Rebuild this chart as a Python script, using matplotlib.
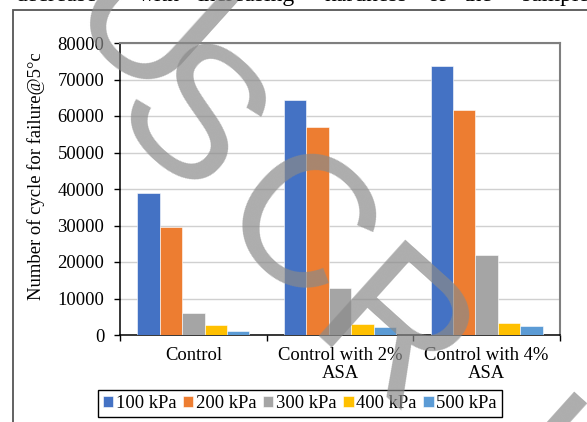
import numpy as np
import matplotlib.pyplot as plt
from matplotlib.patches import Rectangle

plt.rcParams['font.family'] = ['Liberation Serif', 'DejaVu Serif']

# data
categories = ['Control', 'Control with 2%\nASA', 'Control with 4%\nASA']
pressures = ['100 kPa', '200 kPa', '300 kPa', '400 kPa', '500 kPa']
cycles = {
    '100 kPa': [38800, 64500, 73700],
    '200 kPa': [29500, 56900, 61700],
    '300 kPa': [6100, 12800, 21900],
    '400 kPa': [2800, 3100, 3300],
    '500 kPa': [1100, 2200, 2400],
}
colors = ['#4472C4', '#ED7D31', '#A5A5A5', '#FFC000', '#5B9BD5']

fig = plt.figure(figsize=(5.87, 4.22), dpi=100)
ax = fig.add_axes([120 / 587, 1 - 335 / 422, 440 / 587, 292 / 422])

x = np.arange(len(categories))
w = 0.153
for i, p in enumerate(pressures):
    ax.bar(x + (i - 2) * w, cycles[p], w, color=colors[i], label=p,
           edgecolor='white', linewidth=0.4, zorder=3)

ax.set_xlim(-0.5, 2.5)
ax.set_ylim(0, 80000)
ax.set_yticks(np.arange(0, 80001, 10000))
ax.grid(axis='y', color='#d0d0d0', linewidth=1.0, zorder=0)
ax.tick_params(axis='y', labelsize=13.4, length=4.3, width=1, direction='out', pad=7)

ax.set_xticks(x, categories, linespacing=1.05)
ax.set_xticks([-0.5, 0.5, 1.5, 2.5], minor=True)
ax.tick_params(axis='x', which='major', length=0, labelsize=13.4, pad=9)
ax.tick_params(axis='x', which='minor', length=4, width=1, direction='out')

for s in ['left', 'bottom']:
    ax.spines[s].set_color('black')
    ax.spines[s].set_linewidth(1.1)
for s in ['top', 'right']:
    ax.spines[s].set_color('#7f7f7f')
    ax.spines[s].set_linewidth(1.5)

ax.set_ylabel('Number of cycle for failure@5°c', fontsize=13.4)
ax.yaxis.set_label_coords(-0.17, 0.545)

fig.legend(loc='center', bbox_to_anchor=(0.511, 0.044), ncol=5, fontsize=13.4,
           frameon=True, fancybox=False, edgecolor='black', framealpha=1,
           handlelength=0.55, handleheight=0.55, handletextpad=0.15,
           columnspacing=0.35, borderpad=0.25)

# outer frame of the chart object
fig.add_artist(Rectangle((13 / 587, -0.1), 1.1, 1.1 - 10 / 422,
                         transform=fig.transFigure, fill=False,
                         edgecolor='#555555', linewidth=1.3))

# running text line of the page above the chart
words = ['decrease', 'with', 'increasing', 'hardness', 'of', 'the', 'sample']
word_x = [15, 138, 197, 325, 427, 464, 522]
for wd, wx in zip(words, word_x):
    fig.text(wx / 587, 1 - 1 / 422, wd, fontsize=17, va='baseline', ha='left')

# watermark letters, placed one by one along the diagonal
wm_letters = ['U', 'S', 'C', 'R', 'I', 'P']
wm_px = [(140, 35), (185, 127), (292, 236), (385, 345), (522, 468), (600, 550)]
for ch, (px, py) in zip(wm_letters, wm_px):
    fig.text(px / 587, 1 - py / 422, ch, family='Liberation Sans',
             fontsize=135, color='#8a8a8a', alpha=0.7, rotation=-42,
             rotation_mode='anchor', ha='center', va='center', zorder=10)

fig.savefig('out.png', dpi=100)
